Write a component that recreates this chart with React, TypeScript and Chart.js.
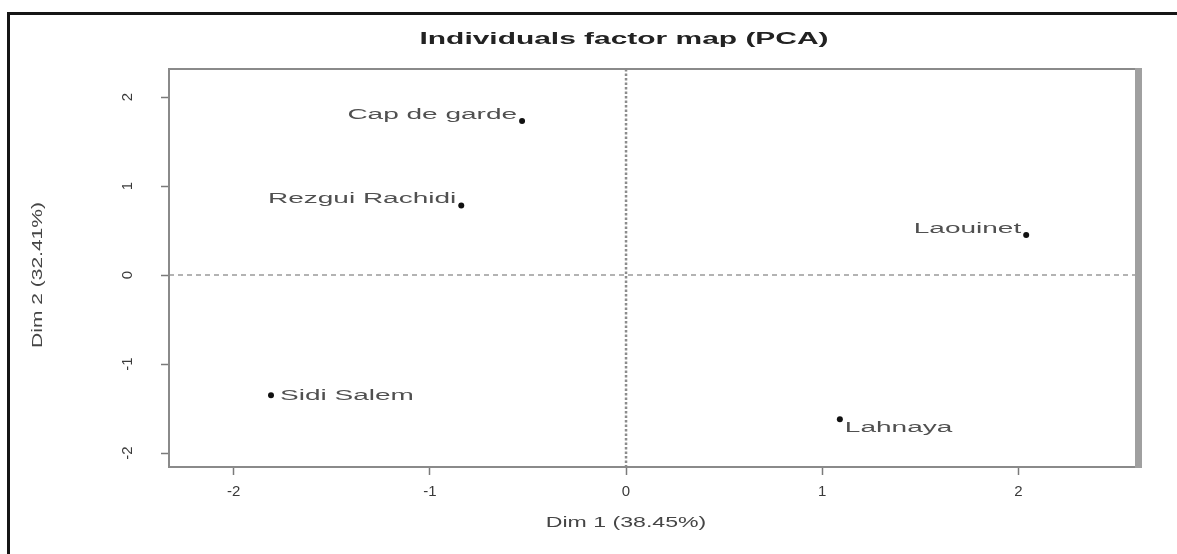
import React, { useEffect, useRef } from "react";
import { Chart, registerables } from "chart.js";

Chart.register(...registerables);

// ---- data ----
const individuals = ["Cap de garde", "Rezgui Rachidi", "Laouinet", "Sidi Salem", "Lahnaya"];
const dim1 = [-0.53, -0.84, 2.04, -1.81, 1.09];
const dim2 = [1.73, 0.78, 0.45, -1.35, -1.62];
const xTicks = [-2, -1, 0, 1, 2];
const yTicks = [-2, -1, 0, 1, 2];
const chartTitle = "Individuals factor map (PCA)";
const xTitle = "Dim 1 (38.45%)";
const yTitle = "Dim 2 (32.41%)";
// label placement style per individual
const labelSide = ["left", "left", "left", "right", "below"];

const FONT = "'Liberation Sans', Arial, sans-serif";

function stretchedText(ctx: any, text: string, x: number, y: number, sx: number, rot: number, align: string) {
  ctx.save();
  ctx.translate(x, y);
  if (rot) ctx.rotate(rot);
  ctx.scale(sx, 1);
  ctx.textAlign = align;
  ctx.textBaseline = "middle";
  ctx.fillText(text, 0, 0);
  ctx.restore();
}

const decorPlugin = {
  id: "pcaDecor",
  beforeDraw(chart: any) {
    const ctx = chart.ctx;
    // outer frame (top and left visible)
    ctx.save();
    ctx.fillStyle = "#151515";
    ctx.fillRect(7, 12, 3, chart.height - 12);
    ctx.fillRect(7, 12, chart.width - 7, 3);
    ctx.restore();
  },
  beforeDatasetsDraw(chart: any) {
    const ctx = chart.ctx;
    const { left, right, top, bottom } = chart.chartArea;
    const x0 = chart.scales.x.getPixelForValue(0);
    const y0 = chart.scales.y.getPixelForValue(0);
    ctx.save();
    ctx.strokeStyle = "#8c8c8c";
    ctx.lineWidth = 2.5;
    ctx.setLineDash([2.5, 2]);
    ctx.beginPath();
    ctx.moveTo(x0, top);
    ctx.lineTo(x0, bottom);
    ctx.stroke();
    ctx.strokeStyle = "#9a9a9a";
    ctx.lineWidth = 1.5;
    ctx.setLineDash([5, 4]);
    ctx.beginPath();
    ctx.moveTo(left, y0);
    ctx.lineTo(right, y0);
    ctx.stroke();
    ctx.restore();
  },
  afterDraw(chart: any) {
    const ctx = chart.ctx;
    const { left, right, top, bottom } = chart.chartArea;
    ctx.save();
    // plot box
    ctx.strokeStyle = "#8a8a8a";
    ctx.lineWidth = 2;
    ctx.strokeRect(left, top, right - left, bottom - top);
    ctx.fillStyle = "#a0a0a0";
    ctx.fillRect(right - 3, top - 1, 7, bottom - top + 2);

    // main title
    ctx.fillStyle = "#222";
    ctx.font = `bold 16px ${FONT}`;
    stretchedText(ctx, chartTitle, 624, 40, 1.87, 0, "center");

    // axis titles
    ctx.fillStyle = "#454545";
    ctx.font = `14px ${FONT}`;
    stretchedText(ctx, xTitle, 626, 523, 1.65, 0, "center");
    stretchedText(ctx, yTitle, 38, 275, 1.5, -Math.PI / 2, "center");

    // point labels
    const meta = chart.getDatasetMeta(0);
    ctx.font = `14px ${FONT}`;
    ctx.fillStyle = "#505050";
    meta.data.forEach((pt: any, i: number) => {
      const side = labelSide[i];
      if (side === "left") {
        stretchedText(ctx, individuals[i], pt.x - 5, pt.y - 6, 2.0, 0, "right");
      } else if (side === "right") {
        stretchedText(ctx, individuals[i], pt.x + 9, pt.y + 1, 2.0, 0, "left");
      } else {
        stretchedText(ctx, individuals[i], pt.x + 5, pt.y + 9, 2.0, 0, "left");
      }
    });
    ctx.restore();
  },
};

export default function App() {
  const canvasRef = useRef<HTMLCanvasElement | null>(null);

  useEffect(() => {
    if (!canvasRef.current) return;
    const chart = new Chart(canvasRef.current, {
      type: "scatter",
      data: {
        datasets: [
          {
            label: "Individuals",
            data: dim1.map((x, i) => ({ x, y: dim2[i] })),
            backgroundColor: "#111",
            borderWidth: 0,
            pointRadius: 3,
          },
        ],
      },
      options: {
        animation: false,
        responsive: false,
        devicePixelRatio: 1,
        layout: { padding: { top: 69, right: 39, bottom: 0, left: 16 } },
        plugins: {
          legend: { display: false },
          tooltip: { enabled: false },
          title: { display: false },
        },
        scales: {
          x: {
            type: "linear",
            min: -2.33,
            max: 2.61,
            afterBuildTicks: (s: any) => {
              s.ticks = xTicks.map((v) => ({ value: v }));
            },
            afterFit: (s: any) => {
              s.height = 87;
            },
            ticks: {
              color: "#3a3a3a",
              font: { size: 15, family: FONT },
              padding: 8,
              maxRotation: 0,
              callback: (v: any) => String(v),
            },
            grid: {
              drawOnChartArea: false,
              drawTicks: true,
              tickLength: 8,
              tickColor: "#7a7a7a",
              tickWidth: 1.5,
            },
            border: { display: false },
            title: { display: false, text: xTitle },
          },
          y: {
            type: "linear",
            min: -2.157,
            max: 2.315,
            afterBuildTicks: (s: any) => {
              s.ticks = yTicks.map((v) => ({ value: v }));
            },
            afterFit: (s: any) => {
              s.width = 153;
            },
            ticks: {
              color: "#3a3a3a",
              font: { size: 15, family: FONT },
              padding: 26,
              minRotation: 90,
              maxRotation: 90,
              crossAlign: "center",
              callback: (v: any) => String(v),
            },
            grid: {
              drawOnChartArea: false,
              drawTicks: true,
              tickLength: 8,
              tickColor: "#7a7a7a",
              tickWidth: 1.5,
            },
            border: { display: false },
            title: { display: false, text: yTitle },
          },
        },
      },
      plugins: [decorPlugin],
    } as any);
    return () => chart.destroy();
  }, []);

  return (
    <div style={{ position: "absolute", left: 0, top: 0, width: 1177, height: 554, background: "#fff" }}>
      <canvas ref={canvasRef} width={1177} height={554} style={{ display: "block" }} />
    </div>
  );
}
